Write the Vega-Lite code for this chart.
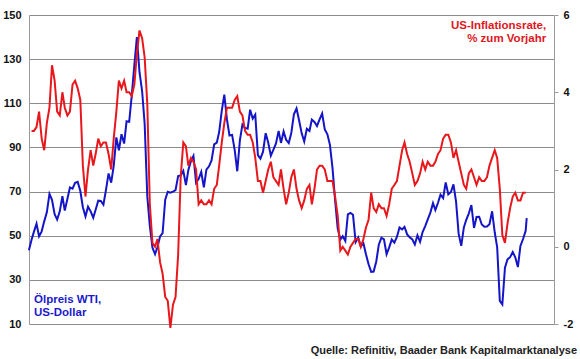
{
  "$schema": "https://vega.github.io/schema/vega-lite/v6.json",
  "width": 525,
  "height": 309,
  "autosize": "none",
  "padding": {"left": 29, "top": 15, "right": 26, "bottom": 35},
  "background": "white",
  "config": {
    "font": "Liberation Sans",
    "view": {"stroke": null},
    "axis": {"labelFont": "Liberation Sans", "labelFontSize": 11, "labelFontWeight": "bold", "labelColor": "#111111", "domainColor": "#9a9a9a", "tickColor": "#9a9a9a", "title": null}
  },
  "title": {
    "text": "Quelle: Refinitiv, Baader Bank Kapitalmarktanalyse",
    "orient": "bottom",
    "anchor": "end",
    "frame": "group",
    "font": "Liberation Sans",
    "fontSize": 11,
    "fontWeight": "bold",
    "color": "#222222",
    "dx": 23,
    "offset": 13
  },
  "datasets": {
    "oil": [
      {"date": "2004-12-31", "oil": 43.45},
      {"date": "2005-01-31", "oil": 48.2}, {"date": "2005-02-28", "oil": 51.75}, {"date": "2005-03-31", "oil": 55.4}, {"date": "2005-04-30", "oil": 49.72}, {"date": "2005-05-31", "oil": 51.97}, {"date": "2005-06-30", "oil": 56.5}, {"date": "2005-07-31", "oil": 60.57}, {"date": "2005-08-31", "oil": 68.94}, {"date": "2005-09-30", "oil": 66.24}, {"date": "2005-10-31", "oil": 59.76}, {"date": "2005-11-30", "oil": 57.32}, {"date": "2005-12-31", "oil": 61.04},
      {"date": "2006-01-31", "oil": 67.92}, {"date": "2006-02-28", "oil": 61.41}, {"date": "2006-03-31", "oil": 66.63}, {"date": "2006-04-30", "oil": 71.88}, {"date": "2006-05-31", "oil": 71.29}, {"date": "2006-06-30", "oil": 73.93}, {"date": "2006-07-31", "oil": 74.4}, {"date": "2006-08-31", "oil": 70.26}, {"date": "2006-09-30", "oil": 62.91}, {"date": "2006-10-31", "oil": 58.73}, {"date": "2006-11-30", "oil": 63.13}, {"date": "2006-12-31", "oil": 61.05},
      {"date": "2007-01-31", "oil": 58.17}, {"date": "2007-02-28", "oil": 61.78}, {"date": "2007-03-31", "oil": 65.87}, {"date": "2007-04-30", "oil": 65.71}, {"date": "2007-05-31", "oil": 64.01}, {"date": "2007-06-30", "oil": 70.68}, {"date": "2007-07-31", "oil": 78.21}, {"date": "2007-08-31", "oil": 74.04}, {"date": "2007-09-30", "oil": 81.66}, {"date": "2007-10-31", "oil": 94.53}, {"date": "2007-11-30", "oil": 88.71}, {"date": "2007-12-31", "oil": 95.98},
      {"date": "2008-01-31", "oil": 91.75}, {"date": "2008-02-29", "oil": 101.84}, {"date": "2008-03-31", "oil": 101.58}, {"date": "2008-04-30", "oil": 113.46}, {"date": "2008-05-31", "oil": 127.35}, {"date": "2008-06-30", "oil": 140.0}, {"date": "2008-07-31", "oil": 124.08}, {"date": "2008-08-31", "oil": 115.46}, {"date": "2008-09-30", "oil": 100.64}, {"date": "2008-10-31", "oil": 67.81}, {"date": "2008-11-30", "oil": 54.43}, {"date": "2008-12-31", "oil": 44.6},
      {"date": "2009-01-31", "oil": 41.68}, {"date": "2009-02-28", "oil": 44.76}, {"date": "2009-03-31", "oil": 49.66}, {"date": "2009-04-30", "oil": 51.12}, {"date": "2009-05-31", "oil": 66.31}, {"date": "2009-06-30", "oil": 69.89}, {"date": "2009-07-31", "oil": 69.45}, {"date": "2009-08-31", "oil": 69.96}, {"date": "2009-09-30", "oil": 70.61}, {"date": "2009-10-31", "oil": 77.0}, {"date": "2009-11-30", "oil": 77.28}, {"date": "2009-12-31", "oil": 79.36},
      {"date": "2010-01-31", "oil": 72.89}, {"date": "2010-02-28", "oil": 79.66}, {"date": "2010-03-31", "oil": 83.76}, {"date": "2010-04-30", "oil": 86.15}, {"date": "2010-05-31", "oil": 73.97}, {"date": "2010-06-30", "oil": 75.63}, {"date": "2010-07-31", "oil": 78.95}, {"date": "2010-08-31", "oil": 71.92}, {"date": "2010-09-30", "oil": 79.95}, {"date": "2010-10-31", "oil": 81.45}, {"date": "2010-11-30", "oil": 84.11}, {"date": "2010-12-31", "oil": 91.38},
      {"date": "2011-01-31", "oil": 92.19}, {"date": "2011-02-28", "oil": 96.97}, {"date": "2011-03-31", "oil": 106.72}, {"date": "2011-04-30", "oil": 113.93}, {"date": "2011-05-31", "oil": 102.7}, {"date": "2011-06-30", "oil": 95.42}, {"date": "2011-07-31", "oil": 95.7}, {"date": "2011-08-31", "oil": 88.81}, {"date": "2011-09-30", "oil": 79.2}, {"date": "2011-10-31", "oil": 93.19}, {"date": "2011-11-30", "oil": 100.36}, {"date": "2011-12-31", "oil": 98.83},
      {"date": "2012-01-31", "oil": 98.48}, {"date": "2012-02-29", "oil": 107.07}, {"date": "2012-03-31", "oil": 103.02}, {"date": "2012-04-30", "oil": 104.87}, {"date": "2012-05-31", "oil": 86.53}, {"date": "2012-06-30", "oil": 84.96}, {"date": "2012-07-31", "oil": 88.06}, {"date": "2012-08-31", "oil": 96.47}, {"date": "2012-09-30", "oil": 92.19}, {"date": "2012-10-31", "oil": 86.24}, {"date": "2012-11-30", "oil": 88.91}, {"date": "2012-12-31", "oil": 91.82},
      {"date": "2013-01-31", "oil": 97.49}, {"date": "2013-02-28", "oil": 92.05}, {"date": "2013-03-31", "oil": 97.23}, {"date": "2013-04-30", "oil": 93.46}, {"date": "2013-05-31", "oil": 91.97}, {"date": "2013-06-30", "oil": 96.56}, {"date": "2013-07-31", "oil": 105.03}, {"date": "2013-08-31", "oil": 107.65}, {"date": "2013-09-30", "oil": 102.33}, {"date": "2013-10-31", "oil": 96.38}, {"date": "2013-11-30", "oil": 92.72}, {"date": "2013-12-31", "oil": 98.42},
      {"date": "2014-01-31", "oil": 97.49}, {"date": "2014-02-28", "oil": 102.59}, {"date": "2014-03-31", "oil": 101.58}, {"date": "2014-04-30", "oil": 99.74}, {"date": "2014-05-31", "oil": 102.71}, {"date": "2014-06-30", "oil": 105.37}, {"date": "2014-07-31", "oil": 98.17}, {"date": "2014-08-31", "oil": 95.96}, {"date": "2014-09-30", "oil": 91.16}, {"date": "2014-10-31", "oil": 80.54}, {"date": "2014-11-30", "oil": 66.15}, {"date": "2014-12-31", "oil": 53.27},
      {"date": "2015-01-31", "oil": 48.24}, {"date": "2015-02-28", "oil": 49.76}, {"date": "2015-03-31", "oil": 47.6}, {"date": "2015-04-30", "oil": 59.63}, {"date": "2015-05-31", "oil": 60.3}, {"date": "2015-06-30", "oil": 59.47}, {"date": "2015-07-31", "oil": 47.12}, {"date": "2015-08-31", "oil": 49.2}, {"date": "2015-09-30", "oil": 45.09}, {"date": "2015-10-31", "oil": 46.59}, {"date": "2015-11-30", "oil": 41.65}, {"date": "2015-12-31", "oil": 37.04},
      {"date": "2016-01-31", "oil": 33.62}, {"date": "2016-02-29", "oil": 33.75}, {"date": "2016-03-31", "oil": 38.34}, {"date": "2016-04-30", "oil": 45.92}, {"date": "2016-05-31", "oil": 49.1}, {"date": "2016-06-30", "oil": 48.33}, {"date": "2016-07-31", "oil": 41.6}, {"date": "2016-08-31", "oil": 44.7}, {"date": "2016-09-30", "oil": 48.24}, {"date": "2016-10-31", "oil": 46.86}, {"date": "2016-11-30", "oil": 49.44}, {"date": "2016-12-31", "oil": 53.72},
      {"date": "2017-01-31", "oil": 52.81}, {"date": "2017-02-28", "oil": 54.01}, {"date": "2017-03-31", "oil": 50.6}, {"date": "2017-04-30", "oil": 49.33}, {"date": "2017-05-31", "oil": 48.32}, {"date": "2017-06-30", "oil": 46.04}, {"date": "2017-07-31", "oil": 50.17}, {"date": "2017-08-31", "oil": 47.23}, {"date": "2017-09-30", "oil": 51.67}, {"date": "2017-10-31", "oil": 54.38}, {"date": "2017-11-30", "oil": 57.4}, {"date": "2017-12-31", "oil": 60.46},
      {"date": "2018-01-31", "oil": 64.73}, {"date": "2018-02-28", "oil": 61.64}, {"date": "2018-03-31", "oil": 64.94}, {"date": "2018-04-30", "oil": 68.57}, {"date": "2018-05-31", "oil": 67.04}, {"date": "2018-06-30", "oil": 74.15}, {"date": "2018-07-31", "oil": 68.76}, {"date": "2018-08-31", "oil": 69.8}, {"date": "2018-09-30", "oil": 73.25}, {"date": "2018-10-31", "oil": 65.31}, {"date": "2018-11-30", "oil": 50.93}, {"date": "2018-12-31", "oil": 45.41},
      {"date": "2019-01-31", "oil": 53.79}, {"date": "2019-02-28", "oil": 57.22}, {"date": "2019-03-31", "oil": 60.14}, {"date": "2019-04-30", "oil": 63.91}, {"date": "2019-05-31", "oil": 53.5}, {"date": "2019-06-30", "oil": 58.47}, {"date": "2019-07-31", "oil": 58.58}, {"date": "2019-08-31", "oil": 55.1}, {"date": "2019-09-30", "oil": 54.07}, {"date": "2019-10-31", "oil": 54.18}, {"date": "2019-11-30", "oil": 55.17}, {"date": "2019-12-31", "oil": 61.06},
      {"date": "2020-01-31", "oil": 51.56}, {"date": "2020-02-29", "oil": 44.76}, {"date": "2020-03-31", "oil": 20.48}, {"date": "2020-04-30", "oil": 18.84}, {"date": "2020-05-31", "oil": 35.49}, {"date": "2020-06-30", "oil": 39.27}, {"date": "2020-07-31", "oil": 40.27}, {"date": "2020-08-31", "oil": 42.61}, {"date": "2020-09-30", "oil": 40.22}, {"date": "2020-10-31", "oil": 35.79}, {"date": "2020-11-30", "oil": 45.34}, {"date": "2020-12-31", "oil": 48.52},
      {"date": "2021-01-31", "oil": 52.2}, {"date": "2021-02-12", "oil": 58.0}
    ],
    "cpi": [
      {"date": "2005-01-31", "cpi": 3.0}, {"date": "2005-02-28", "cpi": 3.0}, {"date": "2005-03-31", "cpi": 3.1}, {"date": "2005-04-30", "cpi": 3.5}, {"date": "2005-05-31", "cpi": 2.8}, {"date": "2005-06-30", "cpi": 2.5}, {"date": "2005-07-31", "cpi": 3.2}, {"date": "2005-08-31", "cpi": 3.6}, {"date": "2005-09-30", "cpi": 4.7}, {"date": "2005-10-31", "cpi": 4.3}, {"date": "2005-11-30", "cpi": 3.5}, {"date": "2005-12-31", "cpi": 3.4},
      {"date": "2006-01-31", "cpi": 4.0}, {"date": "2006-02-28", "cpi": 3.6}, {"date": "2006-03-31", "cpi": 3.4}, {"date": "2006-04-30", "cpi": 3.5}, {"date": "2006-05-31", "cpi": 4.2}, {"date": "2006-06-30", "cpi": 4.3}, {"date": "2006-07-31", "cpi": 4.1}, {"date": "2006-08-31", "cpi": 3.8}, {"date": "2006-09-30", "cpi": 2.1}, {"date": "2006-10-31", "cpi": 1.3}, {"date": "2006-11-30", "cpi": 2.0}, {"date": "2006-12-31", "cpi": 2.5},
      {"date": "2007-01-31", "cpi": 2.1}, {"date": "2007-02-28", "cpi": 2.4}, {"date": "2007-03-31", "cpi": 2.8}, {"date": "2007-04-30", "cpi": 2.6}, {"date": "2007-05-31", "cpi": 2.7}, {"date": "2007-06-30", "cpi": 2.7}, {"date": "2007-07-31", "cpi": 2.4}, {"date": "2007-08-31", "cpi": 2.0}, {"date": "2007-09-30", "cpi": 2.8}, {"date": "2007-10-31", "cpi": 3.5}, {"date": "2007-11-30", "cpi": 4.3}, {"date": "2007-12-31", "cpi": 4.1},
      {"date": "2008-01-31", "cpi": 4.3}, {"date": "2008-02-29", "cpi": 4.0}, {"date": "2008-03-31", "cpi": 4.0}, {"date": "2008-04-30", "cpi": 3.9}, {"date": "2008-05-31", "cpi": 4.2}, {"date": "2008-06-30", "cpi": 5.0}, {"date": "2008-07-31", "cpi": 5.6}, {"date": "2008-08-31", "cpi": 5.4}, {"date": "2008-09-30", "cpi": 4.9}, {"date": "2008-10-31", "cpi": 3.7}, {"date": "2008-11-30", "cpi": 1.1}, {"date": "2008-12-31", "cpi": 0.1},
      {"date": "2009-01-31", "cpi": 0.0}, {"date": "2009-02-28", "cpi": 0.2}, {"date": "2009-03-31", "cpi": -0.4}, {"date": "2009-04-30", "cpi": -0.7}, {"date": "2009-05-31", "cpi": -1.3}, {"date": "2009-06-30", "cpi": -1.4}, {"date": "2009-07-31", "cpi": -2.1}, {"date": "2009-08-31", "cpi": -1.5}, {"date": "2009-09-30", "cpi": -1.3}, {"date": "2009-10-31", "cpi": -0.2}, {"date": "2009-11-30", "cpi": 1.8}, {"date": "2009-12-31", "cpi": 2.7},
      {"date": "2010-01-31", "cpi": 2.6}, {"date": "2010-02-28", "cpi": 2.1}, {"date": "2010-03-31", "cpi": 2.3}, {"date": "2010-04-30", "cpi": 2.2}, {"date": "2010-05-31", "cpi": 2.0}, {"date": "2010-06-30", "cpi": 1.1}, {"date": "2010-07-31", "cpi": 1.2}, {"date": "2010-08-31", "cpi": 1.1}, {"date": "2010-09-30", "cpi": 1.1}, {"date": "2010-10-31", "cpi": 1.2}, {"date": "2010-11-30", "cpi": 1.1}, {"date": "2010-12-31", "cpi": 1.5},
      {"date": "2011-01-31", "cpi": 1.6}, {"date": "2011-02-28", "cpi": 2.1}, {"date": "2011-03-31", "cpi": 2.7}, {"date": "2011-04-30", "cpi": 3.2}, {"date": "2011-05-31", "cpi": 3.6}, {"date": "2011-06-30", "cpi": 3.6}, {"date": "2011-07-31", "cpi": 3.6}, {"date": "2011-08-31", "cpi": 3.8}, {"date": "2011-09-30", "cpi": 3.9}, {"date": "2011-10-31", "cpi": 3.5}, {"date": "2011-11-30", "cpi": 3.4}, {"date": "2011-12-31", "cpi": 3.0},
      {"date": "2012-01-31", "cpi": 2.9}, {"date": "2012-02-29", "cpi": 2.9}, {"date": "2012-03-31", "cpi": 2.7}, {"date": "2012-04-30", "cpi": 2.3}, {"date": "2012-05-31", "cpi": 1.7}, {"date": "2012-06-30", "cpi": 1.7}, {"date": "2012-07-31", "cpi": 1.4}, {"date": "2012-08-31", "cpi": 1.7}, {"date": "2012-09-30", "cpi": 2.0}, {"date": "2012-10-31", "cpi": 2.2}, {"date": "2012-11-30", "cpi": 1.8}, {"date": "2012-12-31", "cpi": 1.7},
      {"date": "2013-01-31", "cpi": 1.6}, {"date": "2013-02-28", "cpi": 2.0}, {"date": "2013-03-31", "cpi": 1.5}, {"date": "2013-04-30", "cpi": 1.1}, {"date": "2013-05-31", "cpi": 1.4}, {"date": "2013-06-30", "cpi": 1.8}, {"date": "2013-07-31", "cpi": 2.0}, {"date": "2013-08-31", "cpi": 1.5}, {"date": "2013-09-30", "cpi": 1.2}, {"date": "2013-10-31", "cpi": 1.0}, {"date": "2013-11-30", "cpi": 1.2}, {"date": "2013-12-31", "cpi": 1.5},
      {"date": "2014-01-31", "cpi": 1.6}, {"date": "2014-02-28", "cpi": 1.1}, {"date": "2014-03-31", "cpi": 1.5}, {"date": "2014-04-30", "cpi": 2.0}, {"date": "2014-05-31", "cpi": 2.1}, {"date": "2014-06-30", "cpi": 2.1}, {"date": "2014-07-31", "cpi": 2.0}, {"date": "2014-08-31", "cpi": 1.7}, {"date": "2014-09-30", "cpi": 1.7}, {"date": "2014-10-31", "cpi": 1.7}, {"date": "2014-11-30", "cpi": 1.3}, {"date": "2014-12-31", "cpi": 0.8},
      {"date": "2015-01-31", "cpi": -0.1}, {"date": "2015-02-28", "cpi": 0.0}, {"date": "2015-03-31", "cpi": -0.1}, {"date": "2015-04-30", "cpi": -0.2}, {"date": "2015-05-31", "cpi": 0.0}, {"date": "2015-06-30", "cpi": 0.1}, {"date": "2015-07-31", "cpi": 0.2}, {"date": "2015-08-31", "cpi": 0.2}, {"date": "2015-09-30", "cpi": 0.0}, {"date": "2015-10-31", "cpi": 0.2}, {"date": "2015-11-30", "cpi": 0.5}, {"date": "2015-12-31", "cpi": 0.7},
      {"date": "2016-01-31", "cpi": 1.4}, {"date": "2016-02-29", "cpi": 1.0}, {"date": "2016-03-31", "cpi": 0.9}, {"date": "2016-04-30", "cpi": 1.1}, {"date": "2016-05-31", "cpi": 1.0}, {"date": "2016-06-30", "cpi": 1.0}, {"date": "2016-07-31", "cpi": 0.8}, {"date": "2016-08-31", "cpi": 1.1}, {"date": "2016-09-30", "cpi": 1.5}, {"date": "2016-10-31", "cpi": 1.6}, {"date": "2016-11-30", "cpi": 1.7}, {"date": "2016-12-31", "cpi": 2.1},
      {"date": "2017-01-31", "cpi": 2.5}, {"date": "2017-02-28", "cpi": 2.7}, {"date": "2017-03-31", "cpi": 2.4}, {"date": "2017-04-30", "cpi": 2.2}, {"date": "2017-05-31", "cpi": 1.9}, {"date": "2017-06-30", "cpi": 1.6}, {"date": "2017-07-31", "cpi": 1.7}, {"date": "2017-08-31", "cpi": 1.9}, {"date": "2017-09-30", "cpi": 2.2}, {"date": "2017-10-31", "cpi": 2.0}, {"date": "2017-11-30", "cpi": 2.2}, {"date": "2017-12-31", "cpi": 2.1},
      {"date": "2018-01-31", "cpi": 2.1}, {"date": "2018-02-28", "cpi": 2.2}, {"date": "2018-03-31", "cpi": 2.4}, {"date": "2018-04-30", "cpi": 2.5}, {"date": "2018-05-31", "cpi": 2.8}, {"date": "2018-06-30", "cpi": 2.9}, {"date": "2018-07-31", "cpi": 2.9}, {"date": "2018-08-31", "cpi": 2.7}, {"date": "2018-09-30", "cpi": 2.3}, {"date": "2018-10-31", "cpi": 2.5}, {"date": "2018-11-30", "cpi": 2.2}, {"date": "2018-12-31", "cpi": 1.9},
      {"date": "2019-01-31", "cpi": 1.6}, {"date": "2019-02-28", "cpi": 1.5}, {"date": "2019-03-31", "cpi": 1.9}, {"date": "2019-04-30", "cpi": 2.0}, {"date": "2019-05-31", "cpi": 1.8}, {"date": "2019-06-30", "cpi": 1.6}, {"date": "2019-07-31", "cpi": 1.8}, {"date": "2019-08-31", "cpi": 1.7}, {"date": "2019-09-30", "cpi": 1.7}, {"date": "2019-10-31", "cpi": 1.8}, {"date": "2019-11-30", "cpi": 2.1}, {"date": "2019-12-31", "cpi": 2.3},
      {"date": "2020-01-31", "cpi": 2.5}, {"date": "2020-02-29", "cpi": 2.3}, {"date": "2020-03-31", "cpi": 1.5}, {"date": "2020-04-30", "cpi": 0.3}, {"date": "2020-05-31", "cpi": 0.1}, {"date": "2020-06-30", "cpi": 0.6}, {"date": "2020-07-31", "cpi": 1.0}, {"date": "2020-08-31", "cpi": 1.3}, {"date": "2020-09-30", "cpi": 1.4}, {"date": "2020-10-31", "cpi": 1.2}, {"date": "2020-11-30", "cpi": 1.2}, {"date": "2020-12-31", "cpi": 1.4},
      {"date": "2021-01-31", "cpi": 1.4}
    ],
    "oilLabel": [
      {"date": "2005-03-01", "v": 20.9, "label": "Ölpreis WTI,"},
      {"date": "2005-03-01", "v": 15.1, "label": "US-Dollar"}
    ],
    "cpiLabel": [
      {"date": "2021-10-01", "v": 5.715, "label": "US-Inflationsrate,"},
      {"date": "2021-10-01", "v": 5.39, "label": "% zum Vorjahr"}
    ]
  },
  "layer": [
    {
      "layer": [
        {
          "data": {"name": "oil"},
          "mark": {"type": "line", "color": "#1414c8", "strokeWidth": 2},
          "encoding": {
            "x": {"field": "date", "type": "temporal", "scale": {"domain": ["2005-01-01", "2022-01-01"]},
              "axis": {"orient": "bottom", "format": "%Y", "grid": false, "tickSize": 3, "labelPadding": 5,
                "values": [{"year": 2005, "month": 1, "date": 1}, {"year": 2007, "month": 1, "date": 1}, {"year": 2009, "month": 1, "date": 1}, {"year": 2011, "month": 1, "date": 1}, {"year": 2013, "month": 1, "date": 1}, {"year": 2015, "month": 1, "date": 1}, {"year": 2017, "month": 1, "date": 1}, {"year": 2019, "month": 1, "date": 1}, {"year": 2021, "month": 1, "date": 1}]}},
            "y": {"field": "oil", "type": "quantitative", "scale": {"domain": [10, 150], "nice": false, "zero": false},
              "axis": {"orient": "left", "values": [10, 30, 50, 70, 90, 110, 130, 150], "grid": true, "gridColor": "#8c8c8c", "gridOpacity": 1, "ticks": false, "labelPadding": 8, "title": null}}
          }
        },
        {
          "data": {"name": "oilLabel"},
          "mark": {"type": "text", "color": "#1a1acc", "align": "left", "baseline": "middle", "font": "Liberation Sans", "fontSize": 11.5, "fontWeight": "bold"},
          "encoding": {
            "x": {"field": "date", "type": "temporal", "axis": null},
            "y": {"field": "v", "type": "quantitative"},
            "text": {"field": "label"}
          }
        }
      ]
    },
    {
      "layer": [
        {
          "data": {"name": "cpi"},
          "mark": {"type": "line", "color": "#e8171c", "strokeWidth": 2},
          "encoding": {
            "x": {"field": "date", "type": "temporal", "axis": null},
            "y": {"field": "cpi", "type": "quantitative", "scale": {"domain": [-2, 6], "nice": false, "zero": false},
              "axis": {"orient": "right", "values": [-2, -1, 0, 1, 2, 3, 4, 5, 6], "labelExpr": "'' + datum.value", "grid": false, "tickSize": 4, "labelPadding": 5, "title": null}}
          }
        },
        {
          "data": {"name": "cpiLabel"},
          "mark": {"type": "text", "color": "#e0161c", "align": "right", "baseline": "middle", "font": "Liberation Sans", "fontSize": 11.5, "fontWeight": "bold"},
          "encoding": {
            "x": {"field": "date", "type": "temporal", "axis": null},
            "y": {"field": "v", "type": "quantitative"},
            "text": {"field": "label"}
          }
        }
      ]
    }
  ],
  "resolve": {"scale": {"y": "independent"}}
}
